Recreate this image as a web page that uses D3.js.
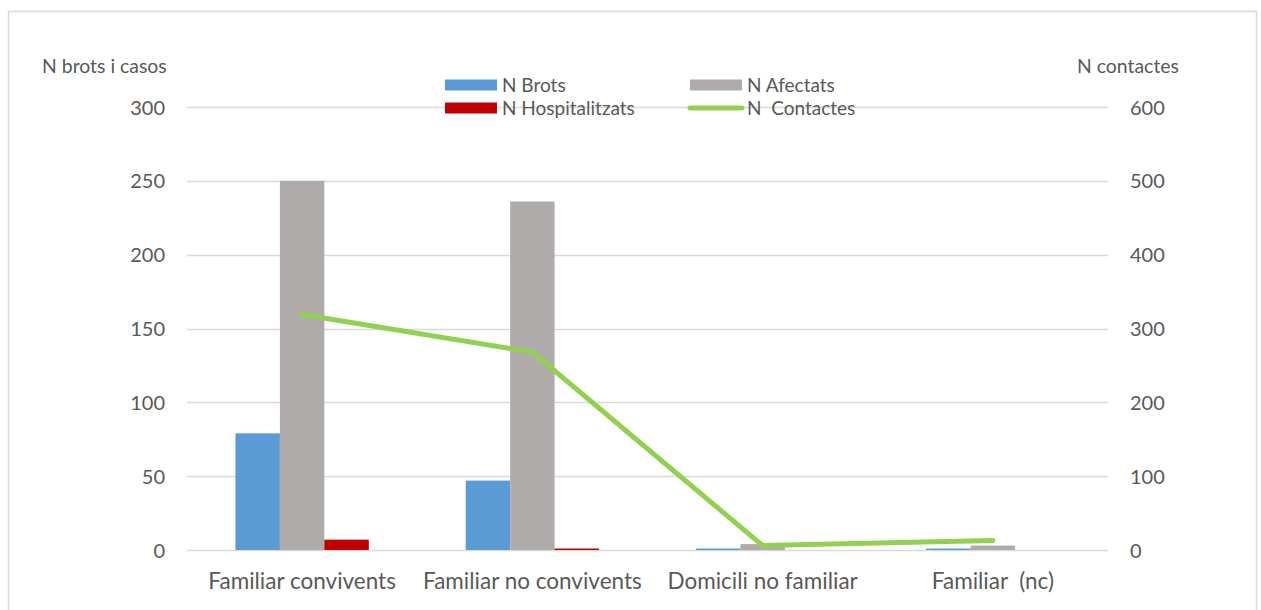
<!DOCTYPE html>
<html>
<head>
<meta charset="utf-8">
<script src="https://cdn.jsdelivr.net/npm/d3@7"></script>
<style>
  body { margin: 0; background: #fff; }
  text { font-family: Lato, "Open Sans", sans-serif; fill: #595959; white-space: pre; }
</style>
</head>
<body>
<svg id="chart" width="1261" height="610"></svg>
<script>
// data
var categories = ["Familiar convivents", "Familiar no convivents", "Domicili no familiar", "Familiar  (nc)"];
var brots = [79, 47, 1, 1];
var afectats = [250, 236, 4, 3];
var hospitalitzats = [7, 1, 0, 0];
var contactes = [319, 268, 6, 13];
var leftTicks = [0, 50, 100, 150, 200, 250, 300];
var rightTicks = [0, 100, 200, 300, 400, 500, 600];

var svg = d3.select("#chart");
var margin = {top: 107, right: 153, bottom: 60, left: 187},
    width = 1261 - margin.left - margin.right,
    height = 610 - margin.top - margin.bottom;

// outer frame
svg.append("rect")
    .attr("x", 8.5).attr("y", 11.5)
    .attr("width", 1248).attr("height", 620)
    .attr("fill", "none").attr("stroke", "#d9d9d9").attr("stroke-width", 1.5);

var g = svg.append("g")
    .attr("transform", "translate(" + margin.left + "," + margin.top + ")");

var x = d3.scaleBand().domain(categories).range([0, width]);
var y = d3.scaleLinear().domain([0, 300]).range([height, 0]);
var y2 = d3.scaleLinear().domain([0, 600]).range([height, 0]);

// gridlines
g.append("g")
    .selectAll("line")
    .data(leftTicks)
    .enter()
    .append("line")
        .attr("x1", 0).attr("x2", width)
        .attr("y1", function(d) { return Math.round(y(d)) + 0.5; })
        .attr("y2", function(d) { return Math.round(y(d)) + 0.5; })
        .attr("stroke", "#d9d9d9")
        .attr("stroke-width", 1.5);

// left axis labels
var yAxis = g.append("g")
    .attr("transform", "translate(-22,0)")
    .call(d3.axisLeft(y).tickValues(leftTicks).tickSize(0).tickPadding(0));
yAxis.select(".domain").remove();
yAxis.selectAll("text").attr("font-size", 20).attr("dy", "0.35em").attr("font-family", null);

// right axis labels
var y2Axis = g.append("g")
    .attr("transform", "translate(" + (width + 22) + ",0)")
    .call(d3.axisRight(y2).tickValues(rightTicks).tickSize(0).tickPadding(0));
y2Axis.select(".domain").remove();
y2Axis.selectAll("text").attr("font-size", 20).attr("dy", "0.35em").attr("font-family", null);

// category labels
var xAxis = g.append("g")
    .attr("transform", "translate(0," + height + ")")
    .call(d3.axisBottom(x).tickSize(0).tickPadding(0));
xAxis.select(".domain").remove();
xAxis.selectAll("text").attr("font-size", 22.5).attr("y", 39).attr("dy", 0).attr("font-family", null);

// bars
var series = [
  {name: "N Brots", values: brots, color: "#5b9bd5"},
  {name: "N Afectats", values: afectats, color: "#afabab"},
  {name: "N Hospitalitzats", values: hospitalitzats, color: "#c00000"}
];
var inner = d3.scaleBand().domain(series.map(function(s) { return s.name; }))
    .range([0, x.bandwidth()]).paddingOuter(1.09);

series.forEach(function(s) {
  g.append("g")
    .selectAll("rect")
    .data(s.values)
    .enter()
    .append("rect")
        .attr("x", function(d, i) { return x(categories[i]) + inner(s.name); })
        .attr("y", function(d) { return y(d); })
        .attr("width", inner.bandwidth())
        .attr("height", function(d) { return height - y(d); })
        .attr("fill", s.color);
});

// contacts line
g.append("path")
    .datum(contactes)
    .attr("fill", "none")
    .attr("stroke", "#92d050")
    .attr("stroke-width", 5)
    .attr("stroke-linecap", "round")
    .attr("d", d3.line()
        .x(function(d, i) { return x(categories[i]) + x.bandwidth() / 2; })
        .y(function(d) { return y2(d); }));

// axis titles
svg.append("text").attr("x", 42).attr("y", 73).attr("font-size", 19.4).text("N brots i casos");
svg.append("text").attr("x", 1077).attr("y", 73).attr("font-size", 19.4).text("N contactes");

// legend
var legend = [
  {name: "N Brots", color: "#5b9bd5", type: "rect", x: 445, y: 85},
  {name: "N Afectats", color: "#afabab", type: "rect", x: 690, y: 85},
  {name: "N Hospitalitzats", color: "#c00000", type: "rect", x: 445, y: 108},
  {name: "N  Contactes", color: "#92d050", type: "line", x: 690, y: 108}
];
legend.forEach(function(l) {
  if (l.type == "rect") {
    svg.append("rect").attr("x", l.x).attr("y", l.y - 5.5)
        .attr("width", 52).attr("height", 11).attr("fill", l.color);
  } else {
    svg.append("line").attr("x1", l.x).attr("x2", l.x + 52)
        .attr("y1", l.y).attr("y2", l.y)
        .attr("stroke", l.color).attr("stroke-width", 5).attr("stroke-linecap", "round");
  }
  svg.append("text").attr("x", l.x + 57).attr("y", l.y).attr("dy", "0.35em")
      .attr("font-size", 19).text(l.name);
});
</script>
</body>
</html>
